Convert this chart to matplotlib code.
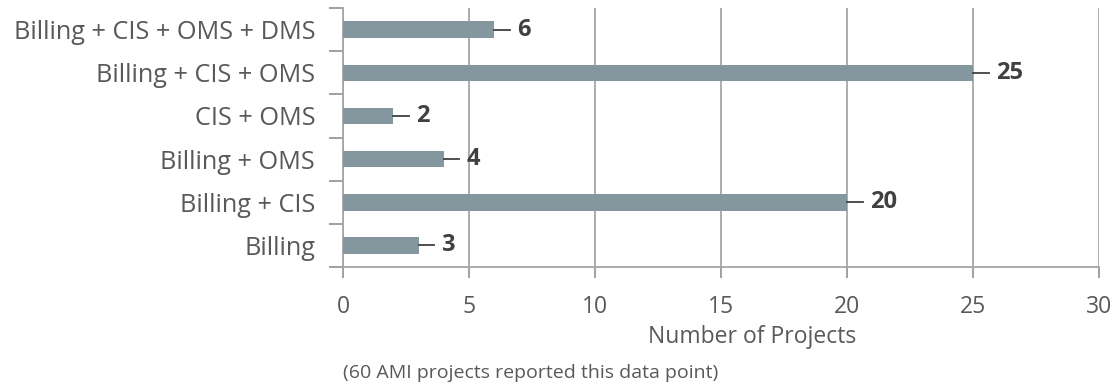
import matplotlib.pyplot as plt

categories = ['Billing', 'Billing + CIS', 'Billing + OMS', 'CIS + OMS',
              'Billing + CIS + OMS', 'Billing + CIS + OMS + DMS']
projects = [3, 20, 4, 2, 25, 6]
x_ticks = [0, 5, 10, 15, 20, 25, 30]

plt.rcParams['font.family'] = ['Open Sans', 'DejaVu Sans']

fig = plt.figure(figsize=(11.15, 3.85), dpi=100)
ax = fig.add_axes([0.3076, 0.3065, 0.6781, 0.6725])

pos = range(len(categories))
ax.barh(pos, projects, height=0.385, color='#84979e', zorder=3)

# leader line + bold value at the end of each bar
for y, v in zip(pos, projects):
    ax.plot([v, v + 0.62], [y, y], color='#404040', lw=1.3, zorder=4)
    ax.text(v + 0.9, y, str(v), va='center', ha='left', fontsize=17,
            fontweight='bold', color='#404040')

ax.set_xlim(0, 30)
ax.set_ylim(-0.5, len(categories) - 0.5)
ax.set_xticks(x_ticks)
ax.set_xticklabels([str(t) for t in x_ticks], fontsize=16.5, color='#595959')
ax.set_yticks([i - 0.5 for i in range(len(categories) + 1)], minor=False)
ax.set_yticklabels([])
ax.set_yticks(list(pos), minor=True)
ax.set_yticklabels(categories, minor=True, fontsize=18.2, color='#595959')
ax.tick_params(axis='y', which='minor', length=0, pad=20)
ax.tick_params(axis='y', which='major', length=10, width=1.3, color='#999999')
ax.tick_params(axis='x', length=8, width=1.3, color='#999999', pad=12)

ax.grid(axis='x', color='#a6a6a6', lw=1.3, zorder=0)
for s in ['top', 'right']:
    ax.spines[s].set_visible(False)
for s in ['left', 'bottom']:
    ax.spines[s].set_color('#a6a6a6')
    ax.spines[s].set_linewidth(1.3)

fig.text(0.675, 0.125, 'Number of Projects', ha='center', va='center',
         fontsize=16.5, color='#595959')
fig.text(0.476, 0.032, '(60 AMI projects reported this data point)',
         ha='center', va='center', fontsize=14, color='#595959')

fig.savefig('out.png', dpi=100)
